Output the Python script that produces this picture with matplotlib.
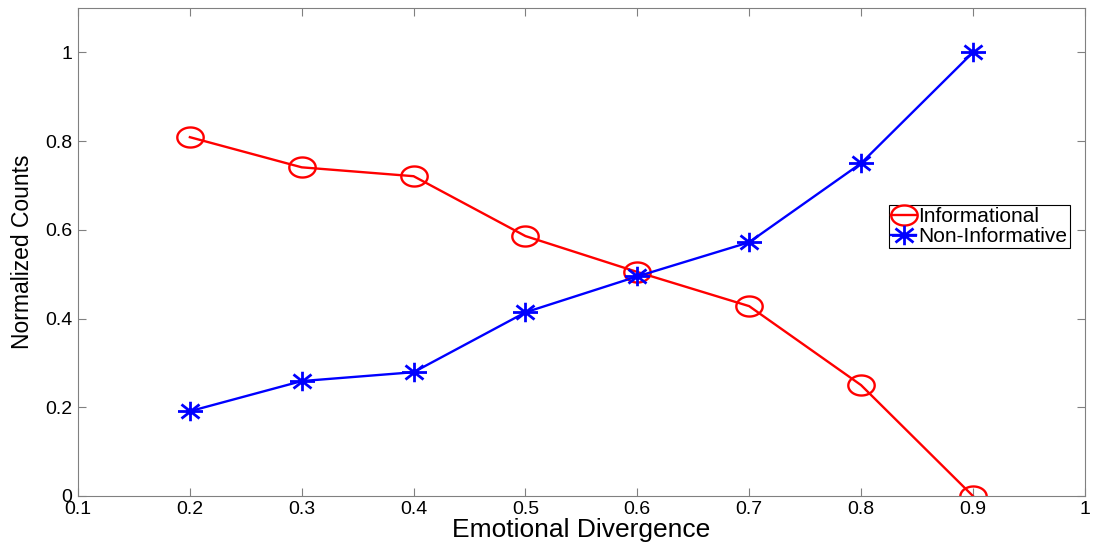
import numpy as np
import matplotlib.pyplot as plt
from matplotlib.path import Path

plt.rcParams['font.family'] = ['Liberation Sans', 'DejaVu Sans']

divergence = [0.2, 0.3, 0.4, 0.5, 0.6, 0.7, 0.8, 0.9]
informational = [0.809, 0.741, 0.721, 0.586, 0.505, 0.428, 0.25, 0.0]
non_informative = [0.191, 0.259, 0.279, 0.414, 0.495, 0.572, 0.75, 1.0]

# markers come out a bit wider than tall, so build squashed versions
t = np.linspace(0, 2 * np.pi, 60)
oval = Path(np.column_stack([np.cos(t), 0.76 * np.sin(t)]), closed=True)
d = 0.72
star = Path([(-1, 0), (1, 0), (0, -0.78), (0, 0.78),
             (-d, -d * 0.78), (d, d * 0.78), (-d, d * 0.78), (d, -d * 0.78)],
            [Path.MOVETO, Path.LINETO] * 4)

fig = plt.figure(figsize=(10.99, 5.42), dpi=100)
ax = fig.add_axes([0.071, 0.085, 0.916, 0.9])

ax.plot(divergence, informational, color='red', lw=1.7, marker=oval, ms=19,
        mfc='none', mec='red', mew=1.7, label='Informational')
ax.plot(divergence, non_informative, color='blue', lw=1.7, marker=star, ms=18,
        mec='blue', mew=2.0, label='Non-Informative')

ax.set_xlim(0.1, 1.0)
ax.set_ylim(0, 1.1)
ax.set_xticks([0.1, 0.2, 0.3, 0.4, 0.5, 0.6, 0.7, 0.8, 0.9, 1.0])
ax.set_xticklabels(['0.1', '0.2', '0.3', '0.4', '0.5', '0.6', '0.7', '0.8', '0.9', '1'])
ax.set_yticks([0, 0.2, 0.4, 0.6, 0.8, 1.0])
ax.set_yticklabels(['0', '0.2', '0.4', '0.6', '0.8', '1'])
ax.tick_params(direction='in', length=6, color='#808080', labelsize=14, pad=4,
               top=True, right=True)
for s in ax.spines.values():
    s.set_color('#808080')

ax.set_xlabel('Emotional Divergence', fontsize=19, labelpad=0)
ax.set_ylabel('Normalized Counts', fontsize=16.5, labelpad=8)

leg = ax.legend(loc='upper left', bbox_to_anchor=(0.806, 0.597), fontsize=15,
                fancybox=False, edgecolor='black', framealpha=1,
                handlelength=1.2, handletextpad=0.1, borderpad=0.1,
                labelspacing=0.05, borderaxespad=0, markerscale=1.0)
leg.get_frame().set_linewidth(0.8)

fig.savefig('out.png', dpi=100)
